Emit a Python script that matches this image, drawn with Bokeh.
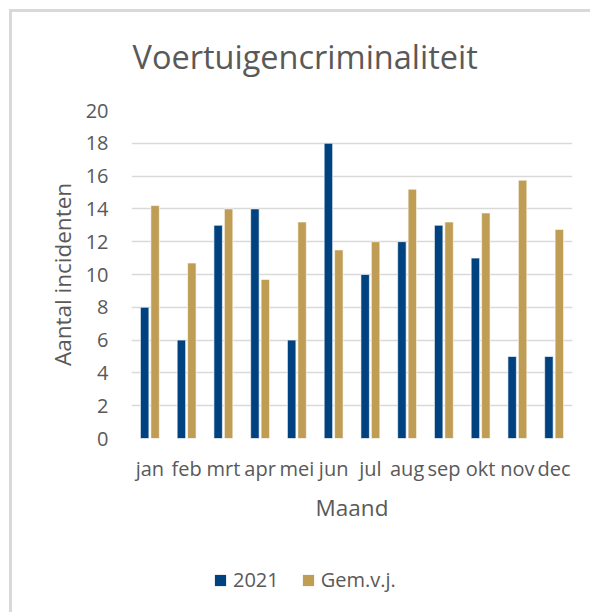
from bokeh.plotting import figure
from bokeh.layouts import column
from bokeh.models import ColumnDataSource, Legend, LegendItem, FixedTicker
from bokeh.core.properties import value
from bokeh.transform import dodge
from bokeh.embed import file_html
from bokeh.resources import INLINE

title_text = "Voertuigencriminaliteit"
months = ["jan", "feb", "mrt", "apr", "mei", "jun", "jul", "aug", "sep", "okt", "nov", "dec"]
series_2021 = [8, 6, 13, 14, 6, 18, 10, 12, 13, 11, 5, 5]
series_gem = [14.2, 10.7, 14.0, 9.7, 13.2, 11.5, 12.0, 15.2, 13.2, 13.75, 15.75, 12.75]
y_ticks = [0, 2, 4, 6, 8, 10, 12, 14, 16, 18, 20]
series_names = ["2021", "Gem.v.j."]

TEXT = "#595959"
NAVY = "#00427F"
GOLD = "#BF9D55"
FONT = "Open Sans"


def strip(h):
    f = figure(width=578, height=h, x_range=(0, 1), y_range=(0, h),
               output_backend="svg", toolbar_location=None,
               x_axis_type=None, y_axis_type=None,
               min_border_left=0, min_border_right=0, min_border_top=0, min_border_bottom=0)
    f.outline_line_color = None
    f.xgrid.visible = False
    f.ygrid.visible = False
    return f


# title strip
top = strip(70)
top.text(x=[0], y=[26], text=[title_text], x_offset=1,
         text_font=value(FONT), text_font_size="32.5px", text_color=TEXT,
         text_baseline="alphabetic", text_align="left")

# main chart
src = ColumnDataSource(dict(m=months, a=series_2021, b=series_gem))

p = figure(x_range=months, y_range=(0, 20), width=578, height=456,
           output_backend="svg", toolbar_location=None,
           min_border_left=119, min_border_right=18, min_border_top=28, min_border_bottom=100)
p.outline_line_color = None
p.x_range.range_padding = 0

r1 = p.vbar(x=dodge("m", -0.142, range=p.x_range), top="a", width=0.23, source=src,
            fill_color=NAVY, line_color="white", line_width=0.6)
r2 = p.vbar(x=dodge("m", 0.142, range=p.x_range), top="b", width=0.23, source=src,
            fill_color=GOLD, line_color="white", line_width=0.6)

p.xgrid.grid_line_color = None
p.ygrid.grid_line_color = "#d9d9d9"
p.ygrid.grid_line_width = 1.5
p.yaxis.ticker = FixedTicker(ticks=y_ticks)

for ax in (p.xaxis[0], p.yaxis[0]):
    ax.axis_line_color = None
    ax.major_tick_line_color = None
    ax.minor_tick_line_color = None
    ax.major_label_text_color = TEXT
    ax.major_label_text_font = FONT
    ax.major_label_text_font_size = "20px"
    ax.axis_label_text_color = TEXT
    ax.axis_label_text_font = FONT
    ax.axis_label_text_font_size = "22.5px"
    ax.axis_label_text_font_style = "normal"

p.yaxis.axis_label = "Aantal incidenten"
p.yaxis.major_label_standoff = 17
p.yaxis.axis_label_standoff = 5
p.xaxis.axis_label = "Maand"
p.xaxis.major_label_standoff = 10
p.xaxis.axis_label_standoff = 7

# legend strip (swatch renderers sit outside the visible range)
leg = strip(74)
swatch = ColumnDataSource(dict(x=[5], top=[0]))
l1 = leg.vbar(x="x", top="top", width=0.1, source=swatch, fill_color=NAVY, line_color=None)
l2 = leg.vbar(x="x", top="top", width=0.1, source=swatch, fill_color=GOLD, line_color=None)

legend = Legend(items=[LegendItem(label=series_names[0], renderers=[l1]),
                       LegendItem(label=series_names[1], renderers=[l2])],
                location=(82, 19), orientation="horizontal",
                label_text_font=FONT, label_text_font_size="20px", label_text_color=TEXT,
                glyph_width=14, glyph_height=14, label_standoff=6, spacing=22,
                padding=0, margin=0, border_line_color=None, background_fill_alpha=0)
leg.add_layout(legend, "center")

layout = column(top, p, leg, spacing=0,
                styles={"margin": "9px 0 0 9px",
                        "border-left": "3px solid #d9d9d9", "border-top": "3px solid #d9d9d9"})

open("out.html", "w").write(file_html(layout, INLINE))
